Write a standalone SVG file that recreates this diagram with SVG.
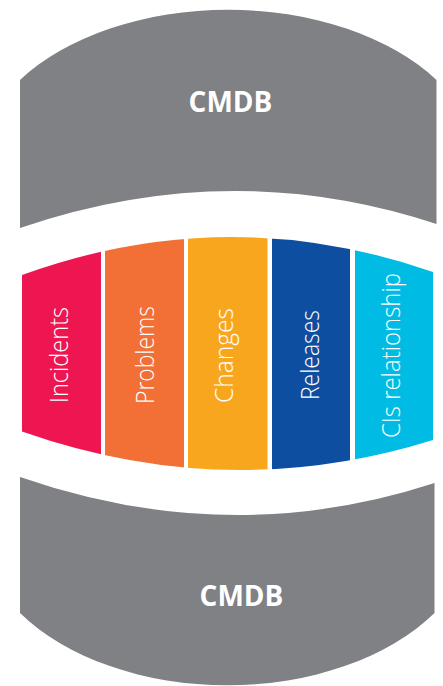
<svg xmlns="http://www.w3.org/2000/svg" width="443" height="686" viewBox="0 0 443 686">
<style>
.db{fill:#808184}
.dbt{font-family:"Open Sans","Liberation Sans",sans-serif;font-weight:700;font-size:28px;fill:#ffffff;text-anchor:middle}
.lbl{font-family:"Open Sans","Liberation Sans",sans-serif;font-weight:300;font-size:26px;fill:#ffffff}
</style>
<defs>
<clipPath id="lens">
<path d="M22,275 Q228,200.5 433,272 L433,440 Q228,504 22,431.5 Z"/>
</clipPath>
</defs>
<rect width="443" height="686" fill="#ffffff"/>
<g id="cmdb-top">
<path class="db" d="M20,80 A250,157 0 0 1 436.5,80 L436.5,224 Q230,156 20,228 Z"/>
<text class="dbt" x="230.5" y="112">CMDB</text>
</g>
<g id="bands" clip-path="url(#lens)">
<g id="incidents">
<rect x="22" y="230" width="79" height="250" fill="#ED1651"/>
<text class="lbl" transform="translate(68,403) rotate(-90)" textLength="96" lengthAdjust="spacingAndGlyphs">Incidents</text>
</g>
<g id="problems">
<rect x="105" y="230" width="79" height="250" fill="#F26F36"/>
<text class="lbl" transform="translate(154,404) rotate(-90)" textLength="98" lengthAdjust="spacingAndGlyphs">Problems</text>
</g>
<g id="changes">
<rect x="188" y="230" width="79.5" height="250" fill="#F9A61F"/>
<text class="lbl" transform="translate(233,403) rotate(-90)" textLength="95" lengthAdjust="spacingAndGlyphs">Changes</text>
</g>
<g id="releases">
<rect x="272" y="230" width="78" height="250" fill="#0E4EA0"/>
<text class="lbl" transform="translate(319,400) rotate(-90)" textLength="90" lengthAdjust="spacingAndGlyphs">Releases</text>
</g>
<g id="cis-relationship">
<rect x="355" y="230" width="78" height="250" fill="#00BCE4"/>
<text class="lbl" transform="translate(400,438) rotate(-90)" textLength="165" lengthAdjust="spacingAndGlyphs">CIs relationship</text>
</g>
</g>
<g id="cmdb-bottom">
<path class="db" d="M20,477 Q230,550 434.5,483 L434.5,613 A250,164 0 0 1 20,613 Z"/>
<text class="dbt" x="241.5" y="606">CMDB</text>
</g>
<g id="connectors"/>
</svg>
